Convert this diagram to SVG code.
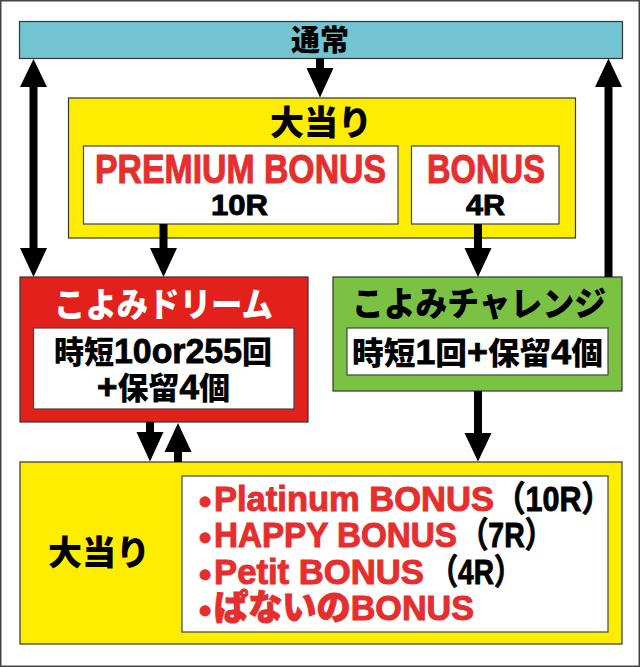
<svg xmlns="http://www.w3.org/2000/svg" width="640" height="667" viewBox="0 0 640 667">
<style>
.box{stroke:#333;stroke-width:1.2}
.white{fill:#fff;stroke:#444;stroke-width:1.2}
.jp{font-family:"Noto Sans CJK JP","Liberation Sans",sans-serif;font-weight:900}
.lat{font-family:"Liberation Sans","Noto Sans CJK JP",sans-serif;font-weight:700}
.num{font-family:"Liberation Sans",sans-serif;font-weight:700;font-size:35px;stroke:#000;stroke-width:0.8}
.red{fill:#e52e2d;stroke:#e52e2d;stroke-width:1}
.blk{fill:#000}
.bs{stroke:#000;stroke-width:0.9}
.arrow{fill:#000}
</style>
<rect x="0.75" y="0.75" width="638.5" height="665.5" fill="#fff" stroke="#444" stroke-width="1.5"/>

<g id="node-normal">
<rect class="box" x="19.5" y="21.5" width="603" height="37" fill="#71c4d0"/>
<text class="jp blk" x="320" y="51" font-size="29" text-anchor="middle">通常</text>
</g>

<g id="node-hit-top">
<rect class="box" x="68.5" y="98" width="507" height="140" fill="#ffed00"/>
<text class="jp blk" x="321" y="135" font-size="34" text-anchor="middle">大当り</text>
</g>

<g id="node-premium">
<rect class="white" x="83.5" y="146" width="314.5" height="78"/>
<text class="lat"><tspan class="red" x="95" y="183" font-size="40" textLength="291" lengthAdjust="spacingAndGlyphs">PREMIUM BONUS</tspan><tspan class="blk bs" x="211" y="215" font-size="29" textLength="57" lengthAdjust="spacingAndGlyphs">10R</tspan></text>
</g>

<g id="node-bonus">
<rect class="white" x="411.5" y="146" width="147.5" height="78"/>
<text class="lat"><tspan class="red" x="427" y="183" font-size="40" textLength="118" lengthAdjust="spacingAndGlyphs">BONUS</tspan><tspan class="blk bs" x="466" y="215" font-size="29" textLength="39" lengthAdjust="spacingAndGlyphs">4R</tspan></text>
</g>

<g id="node-dream">
<rect class="box" x="20" y="277" width="288" height="145" fill="#e2211c"/>
<text class="jp" fill="#fff" x="54" y="317" font-size="34" textLength="219" lengthAdjust="spacingAndGlyphs">こよみドリーム</text>
<rect class="white" x="33.5" y="328" width="260.5" height="81"/>
<text class="jp blk" font-size="31"><tspan x="54" y="363" textLength="218" lengthAdjust="spacingAndGlyphs">時短<tspan class="num">10or255</tspan>回</tspan><tspan x="97" y="399" textLength="133" lengthAdjust="spacingAndGlyphs"><tspan class="num">+</tspan>保留<tspan class="num">4</tspan>個</tspan></text>
</g>

<g id="node-challenge">
<rect class="box" x="333" y="277" width="289" height="114" fill="#7bc143"/>
<text class="jp blk" x="352" y="316" font-size="34" textLength="254" lengthAdjust="spacingAndGlyphs">こよみチャレンジ</text>
<rect class="white" x="347" y="328" width="261" height="47"/>
<text class="jp blk" x="352" y="364" font-size="31" textLength="251" lengthAdjust="spacingAndGlyphs">時短<tspan class="num">1</tspan>回<tspan class="num">+</tspan>保留<tspan class="num">4</tspan>個</text>
</g>

<g id="node-hit-bottom">
<rect class="box" x="20" y="462" width="602" height="182" fill="#ffed00"/>
<text class="jp blk" x="99" y="565" font-size="34" text-anchor="middle">大当り</text>
<rect class="white" x="182" y="476" width="426" height="156"/>
<text class="lat" font-size="35"><tspan class="red" x="199" y="514">•</tspan><tspan class="red" x="214" y="511" textLength="280" lengthAdjust="spacingAndGlyphs">Platinum BONUS</tspan><tspan class="blk bs" x="495" y="511" textLength="117" lengthAdjust="spacingAndGlyphs">（10R）</tspan><tspan class="red" x="199" y="550">•</tspan><tspan class="red" x="214" y="547" textLength="243" lengthAdjust="spacingAndGlyphs">HAPPY BONUS</tspan><tspan class="blk bs" x="460" y="547" textLength="93" lengthAdjust="spacingAndGlyphs">（7R）</tspan><tspan class="red" x="199" y="587">•</tspan><tspan class="red" x="214" y="584" textLength="210" lengthAdjust="spacingAndGlyphs">Petit BONUS</tspan><tspan class="blk bs" x="430" y="584" textLength="92" lengthAdjust="spacingAndGlyphs">（4R）</tspan><tspan class="red" x="199" y="623">•</tspan><tspan class="red" x="214" y="620" textLength="260" lengthAdjust="spacingAndGlyphs"><tspan class="jp">ぱないの</tspan>BONUS</tspan></text>
</g>

<g id="connectors" class="arrow">
<path d="M33.5 59 L47 87 H37.5 V248 H47 L33.5 277 L20 248 H29.5 V87 H20 Z"/>
<path d="M316 58.5 H324 V68 H333.5 L320 97.5 L306.5 68 H316 Z"/>
<path d="M608.5 58.5 L622 87 H612.5 V277 H604.5 V87 H595 Z"/>
<path d="M159.5 224 H167.5 V248 H177 L163.5 277 L150 248 H159.5 Z"/>
<path d="M474 224 H482 V248 H491.5 L478 277 L464.5 248 H474 Z"/>
<path d="M146 422 H154 V432 H163.5 L150 461.5 L136.5 432 H146 Z"/>
<path d="M178 423 L191.5 452 H182 V462 H174 V452 H164.5 Z"/>
<path d="M474 391 H482 V433 H491.5 L478 461.5 L464.5 433 H474 Z"/>
</g>
</svg>
